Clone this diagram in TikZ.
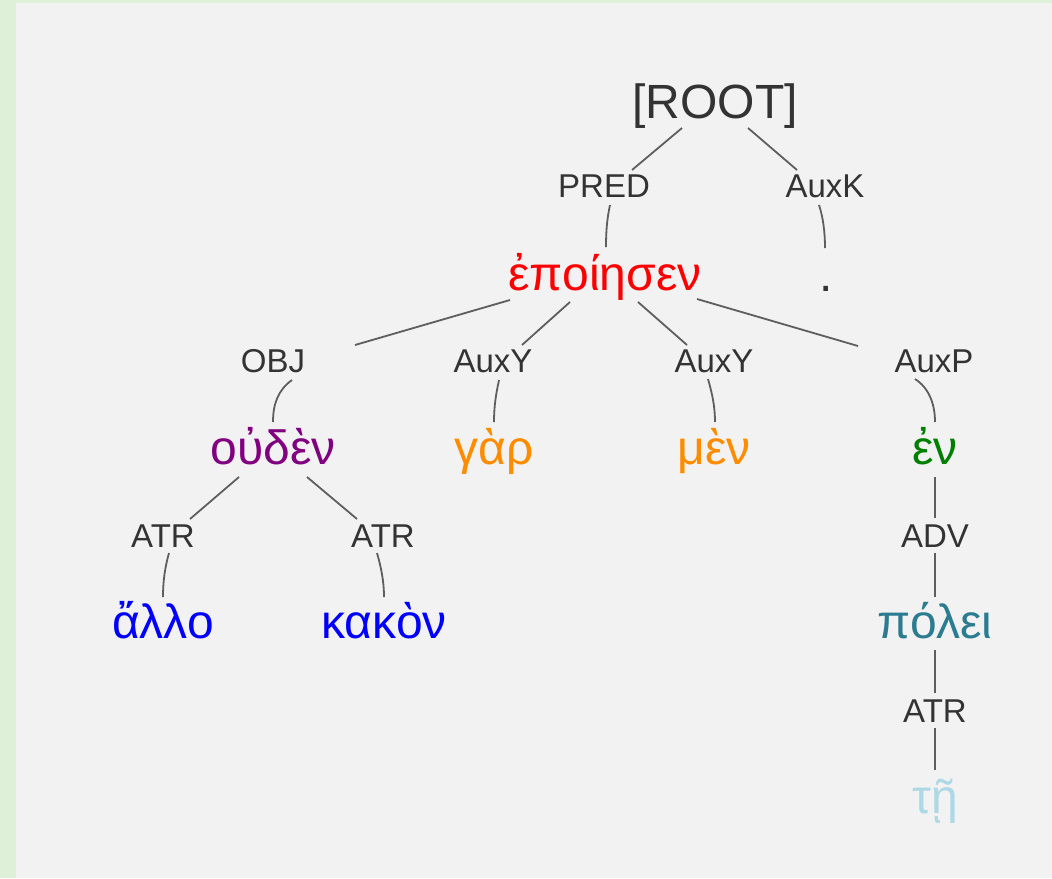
\documentclass[tikz,border=0pt]{standalone}
\usepackage{fontspec}
\setmainfont{Liberation Sans}
\definecolor{bgborder}{HTML}{DFF0D8}
\definecolor{bgpanel}{HTML}{F2F2F2}
\definecolor{labelc}{HTML}{333333}
\definecolor{edgec}{HTML}{5E5E5E}
\definecolor{wred}{HTML}{FF0000}
\definecolor{wpurple}{HTML}{800080}
\definecolor{worange}{HTML}{FF8C00}
\definecolor{wgreen}{HTML}{008000}
\definecolor{wblue}{HTML}{0000FF}
\definecolor{wteal}{RGB}{44,124,145}
\definecolor{wlight}{HTML}{ADD8E6}
\begin{document}
\begin{tikzpicture}[x=0.75pt,y=-0.75pt,
  word/.style={anchor=base,inner sep=0pt,font=\fontsize{36}{40}\selectfont},
  rel/.style={anchor=base,inner sep=0pt,text=labelc,font=\fontsize{24.75}{28}\selectfont},
  edge/.style={draw=edgec,line width=1.35pt}]
\useasboundingbox (0,0) rectangle (1052,878);
\fill[bgborder] (0,0) rectangle (1052,878);
\fill[bgpanel] (16,3) rectangle (1052,878);

% nodes (positions = baseline centres, pixel units, y down)
\node[word,text=labelc] (root) at (715,118) {[ROOT]};
\node[rel] (pred) at (604,197) {PRED};
\node[rel] (auxk) at (825,197) {AuxK};
\node[word,text=wred] (epoi) at (605,290) {ἐποίησεν};
\node[word,text=labelc] (dot) at (826,291) {.};
\node[rel] (obj) at (273,372) {OBJ};
\node[rel] (auxya) at (493,372) {AuxY};
\node[rel] (auxyb) at (714,372) {AuxY};
\node[rel] (auxp) at (934,372) {AuxP};
\node[word,text=wpurple] (ouden) at (273,464) {οὐδὲν};
\node[word,text=worange] (gar) at (494,464) {γὰρ};
\node[word,text=worange] (men) at (714,464) {μὲν};
\node[word,text=wgreen] (en) at (935,464) {ἐν};
\node[rel] (atra) at (163,547) {ATR};
\node[rel] (atrb) at (383,547) {ATR};
\node[rel] (adv) at (935,547) {ADV};
\node[word,text=wblue] (allo) at (163,638) {ἄλλο};
\node[word,text=wblue] (kakon) at (384,638) {κακὸν};
\node[word,text=wteal] (polei) at (935,638) {πόλει};
\node[rel] (atrc) at (935,722) {ATR};
\node[word,text=wlight] (te) at (935,813) {τῇ};

% parent word -> relation label (straight)
\draw[edge] ([shift={(-33,10)}]root.base) -- ([shift={(28,-27)}]pred.base);
\draw[edge] ([shift={(33,10)}]root.base) -- ([shift={(-28,-27)}]auxk.base);
\draw[edge] ([shift={(-95,10)}]epoi.base) -- ([shift={(82,-27)}]obj.base);
\draw[edge] ([shift={(-35,12)}]epoi.base) -- ([shift={(29,-27)}]auxya.base);
\draw[edge] ([shift={(33,12)}]epoi.base) -- ([shift={(-27,-27)}]auxyb.base);
\draw[edge] ([shift={(92,9)}]epoi.base) -- ([shift={(-76,-26)}]auxp.base);
\draw[edge] ([shift={(-34,13)}]ouden.base) -- ([shift={(27,-28)}]atra.base);
\draw[edge] ([shift={(34,13)}]ouden.base) -- ([shift={(-26,-28)}]atrb.base);
\draw[edge] ([shift={(0,13)}]en.base) -- ([shift={(0,-29)}]adv.base);
\draw[edge] ([shift={(0,12)}]polei.base) -- ([shift={(0,-29)}]atrc.base);

% relation label -> child word (slightly curved)
\draw[edge] ([shift={(6,8)}]pred.base) .. controls +(-3,14) and +(0,-16) .. ([shift={(1,-43)}]epoi.base);
\draw[edge] ([shift={(-6,8)}]auxk.base) .. controls +(4,12) and +(0,-16) .. ([shift={(-1,-43)}]dot.base);
\draw[edge] ([shift={(19,8)}]obj.base) .. controls +(-14,10) and +(0,-18) .. ([shift={(0,-42)}]ouden.base);
\draw[edge] ([shift={(6,8)}]auxya.base) .. controls +(-3,14) and +(0,-16) .. ([shift={(0,-42)}]gar.base);
\draw[edge] ([shift={(-6,7)}]auxyb.base) .. controls +(4,14) and +(0,-16) .. ([shift={(1,-42)}]men.base);
\draw[edge] ([shift={(-19,7)}]auxp.base) .. controls +(14,9) and +(0,-18) .. ([shift={(0,-42)}]en.base);
\draw[edge] ([shift={(6,6)}]atra.base) .. controls +(-4,14) and +(0,-16) .. ([shift={(0,-41)}]allo.base);
\draw[edge] ([shift={(-6,6)}]atrb.base) .. controls +(4,14) and +(0,-16) .. ([shift={(0,-41)}]kakon.base);
\draw[edge] ([shift={(0,6)}]adv.base) -- ([shift={(0,-41)}]polei.base);
\draw[edge] ([shift={(0,6)}]atrc.base) -- ([shift={(0,-43)}]te.base);
\end{tikzpicture}
\end{document}
